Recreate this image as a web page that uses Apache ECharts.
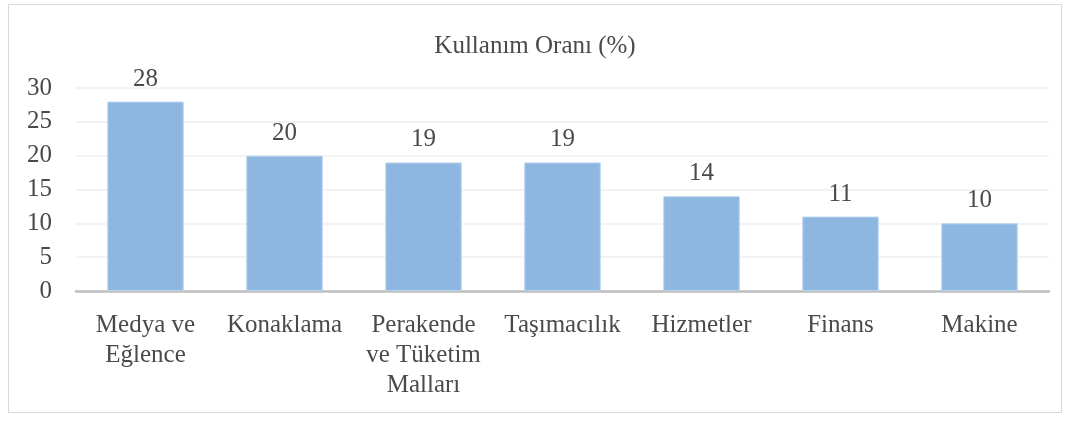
<!DOCTYPE html>
<html>
<head>
<meta charset="utf-8">
<script src="https://cdn.jsdelivr.net/npm/echarts@6/dist/echarts.min.js"></script>
<style>
  html, body { margin: 0; padding: 0; background: #fff; }
  #frame { position: absolute; left: 8px; top: 4px; width: 1054px; height: 409px; border: 1px solid #d9d9d9; box-sizing: border-box; }
  #chart { width: 1070px; height: 421px; }
</style>
</head>
<body>
<div id="frame"></div>
<div id="chart"></div>
<script>
// kategoriler ve değerler
var categories = ['Medya ve\nEğlence', 'Konaklama', 'Perakende\nve Tüketim\nMalları', 'Taşımacılık', 'Hizmetler', 'Finans', 'Makine'];
var values = [28, 20, 19, 19, 14, 11, 10];
var seriesName = 'Kullanım Oranı (%)';

var textColor = '#4a4a4a';
var myChart = echarts.init(document.getElementById('chart'));

var option = {
  animation: false,
  title: {
    text: seriesName,
    left: 'center',
    top: 29,
    textStyle: {
      fontFamily: 'Liberation Serif',
      fontWeight: 'normal',
      fontSize: 25,
      color: textColor
    }
  },
  grid: {
    left: 76,
    right: 21,
    top: 88,
    bottom: 130
  },
  xAxis: {
    type: 'category',
    data: categories,
    axisTick: { show: false },
    axisLine: { lineStyle: { color: '#bfbfbf', width: 2.5 } },
    axisLabel: {
      interval: 0,
      margin: 19,
      fontFamily: 'Liberation Serif',
      fontSize: 25,
      lineHeight: 30,
      color: textColor
    }
  },
  yAxis: {
    type: 'value',
    min: 0,
    max: 30,
    interval: 5,
    axisLine: { show: false },
    axisTick: { show: false },
    splitLine: { lineStyle: { color: '#efefef', width: 1.5 } },
    axisLabel: {
      margin: 24,
      fontFamily: 'Liberation Serif',
      fontSize: 25,
      color: textColor
    }
  },
  series: [
    {
      name: seriesName,
      type: 'bar',
      data: values,
      barWidth: '55%',
      itemStyle: {
        color: '#8db7e1',
        borderColor: '#b9d4ef',
        borderWidth: 1
      },
      label: {
        show: true,
        position: 'top',
        distance: 10,
        fontFamily: 'Liberation Serif',
        fontSize: 25,
        color: textColor
      }
    }
  ]
};

myChart.setOption(option);
</script>
</body>
</html>
